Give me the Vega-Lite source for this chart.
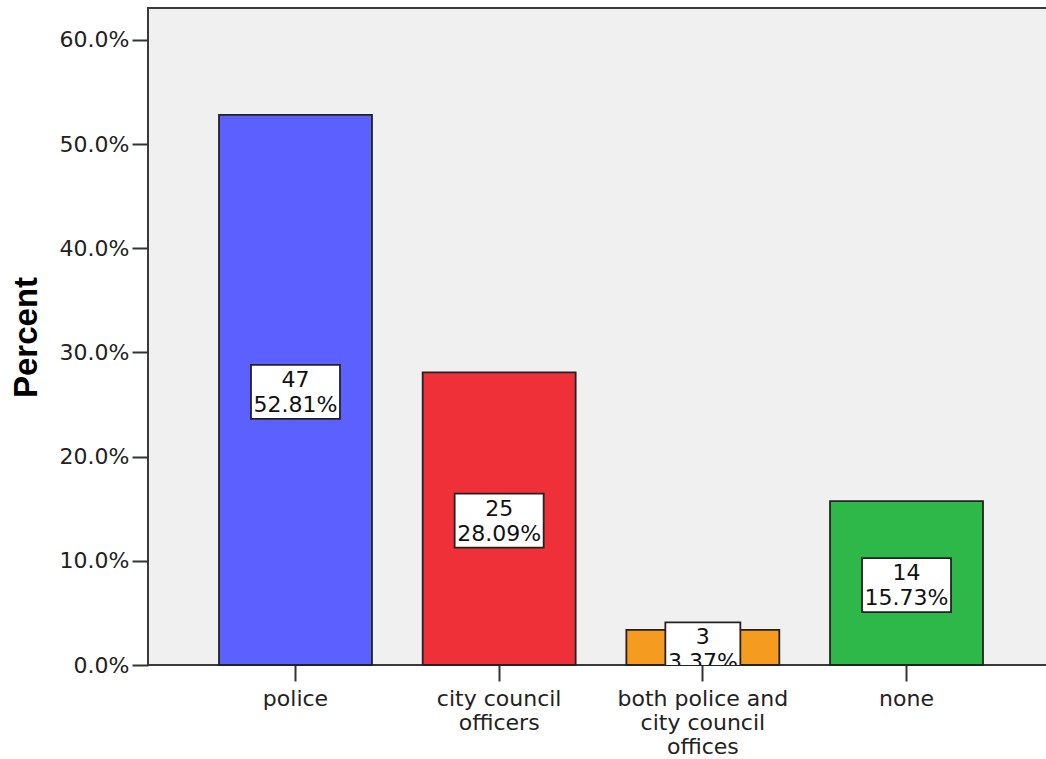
{
  "$schema": "https://vega.github.io/schema/vega-lite/v6.json",
  "width": 906,
  "height": 657,
  "autosize": {"type": "none"},
  "padding": {"left": 148, "top": 8, "right": -8, "bottom": 94},
  "background": "white",
  "config": {
    "view": {"fill": "#f0f0f0", "stroke": "#3a3a3a", "strokeWidth": 2},
    "font": "DejaVu Sans"
  },
  "data": {
    "values": [
      {"answer": "police", "n": 47, "pct": 0.5281},
      {"answer": "city council officers", "n": 25, "pct": 0.2809},
      {"answer": "both police and city council offices", "n": 3, "pct": 0.0337},
      {"answer": "none", "n": 14, "pct": 0.1573}
    ]
  },
  "encoding": {
    "x": {
      "field": "answer",
      "type": "nominal",
      "sort": null,
      "scale": {"paddingInner": 0.249, "paddingOuter": 0.3486},
      "axis": {
        "title": null,
        "domain": false,
        "grid": false,
        "ticks": true,
        "tickSize": 16,
        "tickWidth": 2,
        "tickColor": "#333",
        "labelAngle": 0,
        "labelFontSize": 22,
        "labelColor": "#222",
        "labelPadding": 7,
        "labelLineHeight": 24,
        "labelExpr": "datum.label == 'city council officers' ? ['city council', 'officers'] : datum.label == 'both police and city council offices' ? ['both police and', 'city council', 'offices'] : datum.label"
      }
    }
  },
  "layer": [
    {
      "mark": {"type": "bar", "stroke": "#222", "strokeWidth": 1.8},
      "encoding": {
        "y": {
          "field": "pct",
          "type": "quantitative",
          "scale": {"domain": [0, 0.6307], "nice": false, "zero": true},
          "axis": {
            "values": [0, 0.1, 0.2, 0.3, 0.4, 0.5, 0.6],
            "format": ".1%",
            "domain": false,
            "grid": false,
            "tickSize": 16,
            "tickWidth": 2,
            "tickColor": "#333",
            "labelFontSize": 22,
            "labelColor": "#222",
            "labelPadding": 3,
            "title": "Percent",
            "titleFont": "Liberation Sans",
            "titleFontSize": 33,
            "titleFontWeight": "bold",
            "titleColor": "#000",
            "titleBaseline": "alphabetic",
            "titleX": -112,
            "titleY": 329
          }
        },
        "color": {
          "field": "answer",
          "type": "nominal",
          "scale": {
            "domain": ["police", "city council officers", "both police and city council offices", "none"],
            "range": ["#5b60ff", "#ef3039", "#f59b1f", "#2eb84a"]
          },
          "legend": null
        }
      }
    },
    {
      "mark": {"type": "point", "filled": true, "fill": "white", "stroke": "#222", "strokeWidth": 1.8, "opacity": 1, "clip": true},
      "encoding": {
        "y": {"field": "pct", "type": "quantitative", "scale": {"domain": [0, 1.2614], "nice": false}, "axis": null},
        "yOffset": {"value": 2},
        "shape": {"condition": {"test": "datum.pct < 0.1", "value": "M-1,-0.72H1V0.72H-1Z"}, "value": "M-1,-0.607H1V0.607H-1Z"},
        "size": {"condition": {"test": "datum.pct < 0.1", "value": 5625}, "value": 7921}
      }
    },
    {
      "mark": {"type": "text", "dy": -10, "fontSize": 22, "color": "#111", "clip": true, "baseline": "middle"},
      "encoding": {
        "y": {"field": "pct", "type": "quantitative", "scale": {"domain": [0, 1.2614], "nice": false}, "axis": null},
        "text": {"field": "n", "type": "quantitative"}
      }
    },
    {
      "mark": {"type": "text", "dy": 15, "fontSize": 22, "color": "#111", "clip": true, "baseline": "middle"},
      "encoding": {
        "y": {"field": "pct", "type": "quantitative", "scale": {"domain": [0, 1.2614], "nice": false}, "axis": null},
        "text": {"field": "pct", "type": "quantitative", "format": ".2%"}
      }
    }
  ],
  "resolve": {"scale": {"y": "independent"}}
}
